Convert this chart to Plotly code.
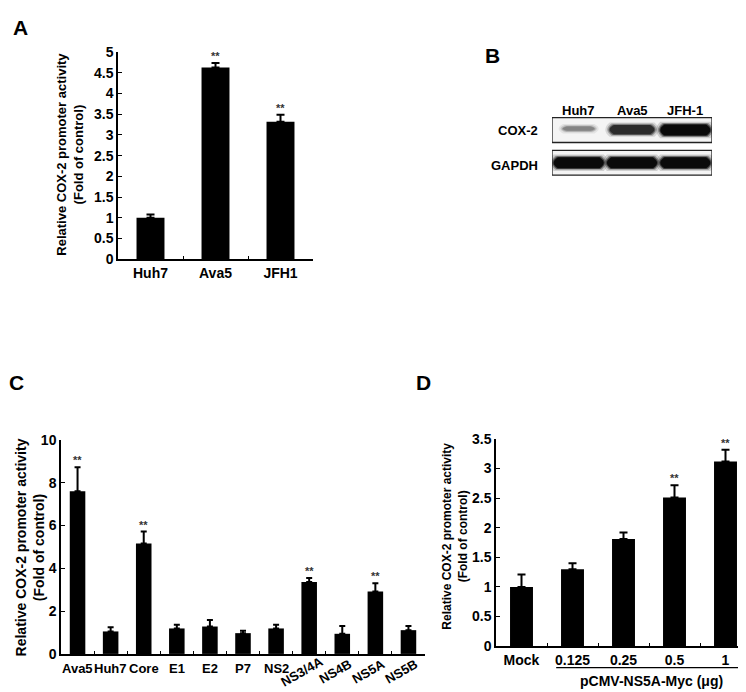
import plotly.graph_objects as go

W, H = 746, 692


def px_x(p):
    return p / W


def px_y(p):
    return 1 - p / H


# ---------------- DATA ----------------
# Panel A
a_cats = ["Huh7", "Ava5", "JFH1"]
a_vals = [1.0, 4.63, 3.32]
a_errs = [0.08, 0.11, 0.17]
a_sig = ["", "**", "**"]

# Panel B (western blot, relative band intensity)
b_lanes = ["Huh7", "Ava5", "JFH-1"]
b_rows = ["GAPDH", "COX-2"]
b_gapdh = [1.0, 1.0, 1.0]
b_cox2 = [0.3, 0.8, 1.0]

# Panel C
c_cats = ["Ava5", "Huh7", "Core", "E1", "E2", "P7", "NS2", "NS3/4A", "NS4B", "NS5A", "NS5B"]
c_vals = [7.6, 1.05, 5.16, 1.19, 1.28, 0.97, 1.19, 3.36, 0.94, 2.92, 1.11]
c_errs = [1.13, 0.2, 0.56, 0.17, 0.3, 0.11, 0.17, 0.19, 0.37, 0.38, 0.2]
c_sig = ["**", "", "**", "", "", "", "", "**", "", "**", ""]
c_rot = [False] * 7 + [True] * 4

# Panel D
d_cats = ["Mock", "0.125", "0.25", "0.5", "1"]
d_vals = [1.0, 1.3, 1.81, 2.51, 3.12]
d_errs = [0.21, 0.1, 0.11, 0.21, 0.2]
d_sig = ["", "", "", "**", "**"]

FONT = "Liberation Sans, Arial, Helvetica, sans-serif"

fig = go.Figure()


def add_bars(cats, vals, errs, xa, ya, width, capw):
    fig.add_trace(go.Bar(
        x=cats, y=vals, xaxis=xa, yaxis=ya, width=width,
        marker=dict(color="black", line=dict(width=0)),
        error_y=dict(type="data", array=errs, arrayminus=[0] * len(errs),
                     symmetric=False, color="black", thickness=2, width=capw),
        showlegend=False, hoverinfo="skip"))


add_bars(a_cats, a_vals, a_errs, "x", "y", 0.43, 4)
add_bars(c_cats, c_vals, c_errs, "x2", "y2", 0.47, 3)
add_bars(d_cats, d_vals, d_errs, "x3", "y3", 0.45, 4)


def xax(d0, d1, n, anchor, size, show=True):
    return dict(domain=[px_x(d0), px_x(d1)], anchor=anchor, type="category",
                range=[-0.5, n - 0.5], showline=True, linecolor="black", linewidth=1.5,
                ticks="inside", tickson="boundaries", ticklen=3, tickcolor="black",
                tickwidth=1, showgrid=False, zeroline=False, showticklabels=show,
                tickfont=dict(family=FONT, size=size, color="black", weight="bold"),
                fixedrange=True)


def yax(t0, t1, top, dtick, anchor, size):
    return dict(domain=[px_y(t1), px_y(t0)], anchor=anchor, range=[0, top], dtick=dtick,
                showline=True, linecolor="black", linewidth=1.5, ticks="inside",
                ticklen=4, tickcolor="black", tickwidth=1, showgrid=False,
                zeroline=False, tickfont=dict(family=FONT, size=size, color="black",
                                              weight="bold"),
                fixedrange=True)


annotations = []
shapes = []


def ann(x, y, text, size, xref="paper", yref="paper", **kw):
    d = dict(x=x, y=y, xref=xref, yref=yref, text=text, showarrow=False,
             font=dict(family=FONT, size=size, color=kw.pop("color", "black"),
                       weight="bold"))
    d.update(kw)
    annotations.append(d)


# significance stars (positioned by category index)
for cats, vals, errs, sig, xr, yr in [
    (a_cats, a_vals, a_errs, a_sig, "x", "y"),
    (c_cats, c_vals, c_errs, c_sig, "x2", "y2"),
    (d_cats, d_vals, d_errs, d_sig, "x3", "y3"),
]:
    for i, (v, e, s) in enumerate(zip(vals, errs, sig)):
        if s:
            ann(i, v + e, s, 11, xref=xr, yref=yr, yanchor="bottom", yshift=-1,
                color="#333333")

# y-axis titles
ytitle = "Relative COX-2 promoter activity<br>(Fold of control)"
ann(px_x(62), px_y(142), ytitle, 13, textangle=-90, xanchor="center", yanchor="middle")
ann(px_x(22), px_y(544), ytitle, 14, textangle=-90, xanchor="center", yanchor="middle")
ann(px_x(447), px_y(532), ytitle, 12, textangle=-90, xanchor="center", yanchor="middle")

# Panel C x labels (mixed horizontal / rotated)
for i, (c, rot) in enumerate(zip(c_cats, c_rot)):
    if rot:
        ann(i, px_y(671), c, 13, xref="x2", textangle=-30, xanchor="center",
            yanchor="middle", xshift=-7)
    else:
        ann(i, px_y(668), c, 13, xref="x2", xanchor="center", yanchor="middle")

# Panel D group label
shapes.append(dict(type="line", xref="x3", yref="paper", x0=0.68, x1=4.5,
                   y0=px_y(667), y1=px_y(667), line=dict(color="black", width=1.2)))
ann(2.55, px_y(681), "pCMV-NS5A-Myc (μg)", 14, xref="x3", xanchor="center",
    yanchor="middle")

# Panel letters
ann(px_x(12), px_y(12), "A", 21, xanchor="center", yanchor="middle")
ann(px_x(484), px_y(40), "B", 21, xanchor="center", yanchor="middle")
ann(px_x(8), px_y(375), "C", 21, xanchor="center", yanchor="middle")
ann(px_x(415), px_y(375), "D", 21, xanchor="center", yanchor="middle")

# ---------------- Western blot (panel B) ----------------
HALF = 0.38
for r, name in enumerate(b_rows):
    shapes.append(dict(type="rect", xref="x4", yref="y4", x0=-0.5, x1=len(b_lanes) - 0.5,
                       y0=r - HALF, y1=r + HALF, fillcolor="#f4f4f4",
                       line=dict(color="#222222", width=1.3), layer="below"))


def band_path(cx, cy, hw, ht, e=0.08):
    return (f"M {cx - hw + e},{cy - ht} L {cx + hw - e},{cy - ht} "
            f"Q {cx + hw + e},{cy} {cx + hw - e},{cy + ht} "
            f"L {cx - hw + e},{cy + ht} Q {cx - hw - e},{cy} {cx - hw + e},{cy - ht} Z")


for r, row in enumerate([b_gapdh, b_cox2]):
    for i, v in enumerate(row):
        hw = 0.22 + 0.25 * v
        ht = 0.02 + 0.15 * v
        g = int(175 * (1 - v)) + 10
        col = f"rgb({g},{g},{g})"
        cy = r + (0.06 * (1 - v) if r == 1 else 0)
        for grow, op in [(0.08, 0.15), (0.045, 0.3), (0.02, 0.55)]:
            shapes.append(dict(type="path", xref="x4", yref="y4",
                               path=band_path(i, cy, hw + grow, ht + grow),
                               fillcolor=col, opacity=op, line=dict(width=0)))
        shapes.append(dict(type="path", xref="x4", yref="y4",
                           path=band_path(i, cy, hw, ht),
                           fillcolor=col, line=dict(width=0)))

for i, lane in enumerate(b_lanes):
    ann(i, px_y(97), lane, 13, xref="x4", xanchor="center", yanchor="middle")
ann(px_x(532), px_y(117), "COX-2", 13, xanchor="right", yanchor="middle")
ann(px_x(532), px_y(153), "GAPDH", 13, xanchor="right", yanchor="middle")

fig.update_layout(
    width=W, height=H, margin=dict(l=0, r=0, t=0, b=0),
    paper_bgcolor="white", plot_bgcolor="white", showlegend=False,
    font=dict(family=FONT, color="black"),
    xaxis=xax(110, 305, 3, "y", 14),
    yaxis=yax(37, 249, 5, 0.5, "x", 14),
    xaxis2=xax(53, 417, 11, "y2", 13, show=False),
    yaxis2=yax(434, 653, 10, 2, "x2", 14),
    xaxis3=xax(488, 743, 5, "y3", 14),
    yaxis3=yax(433, 645, 3.5, 0.5, "x3", 14),
    xaxis4=dict(domain=[px_x(544), px_x(704)], anchor="y4", range=[-0.5, 2.5],
                visible=False, fixedrange=True),
    yaxis4=dict(domain=[px_y(167), px_y(100)], anchor="x4", range=[-0.5, 1.5],
                visible=False, fixedrange=True),
    annotations=annotations, shapes=shapes,
)

fig.write_html("out.html")
